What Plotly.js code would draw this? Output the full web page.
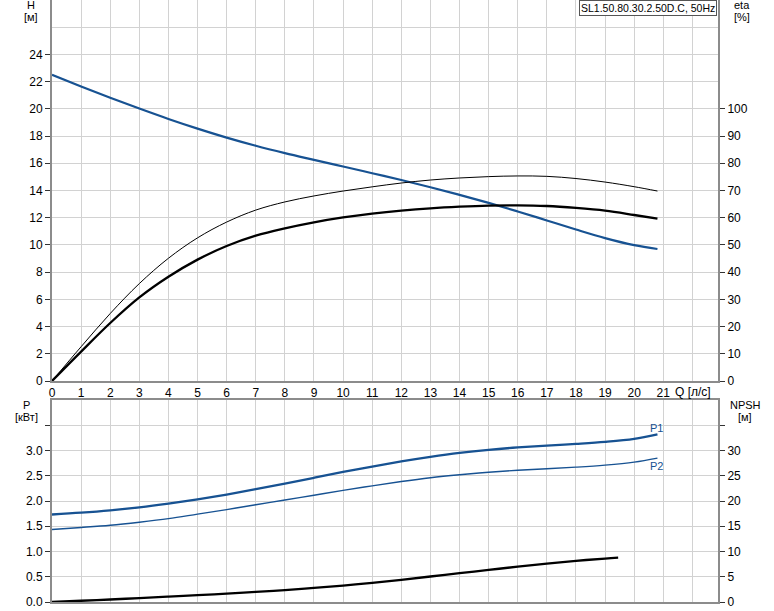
<!DOCTYPE html>
<html>
<head>
<meta charset="utf-8">
<script src="https://cdn.plot.ly/plotly-3.0.1.min.js"></script>
<style>html,body{margin:0;padding:0;background:#fff;}#chart{width:774px;height:611px;}</style>
</head>
<body>
<div id="chart"></div>
<script>
// ---- data ----
const Q = [0,1,2,3,4,5,6,7,8,9,10,11,12,13,14,15,16,17,18,19,20,20.8];
const H = [22.5,21.65,20.82,20.02,19.26,18.55,17.89,17.29,16.75,16.25,15.76,15.27,14.77,14.24,13.68,13.09,12.46,11.8,11.13,10.5,9.98,9.7];
const etaThin = [0,12.6,24.8,35.8,45.1,52.6,58.4,62.8,65.8,68.0,69.8,71.35,72.75,73.85,74.6,75.1,75.35,75.2,74.4,73.1,71.4,69.8];
const etaThick = [0,10.8,21.3,30.7,38.3,44.6,49.6,53.4,56.1,58.3,60.1,61.5,62.6,63.45,64.05,64.45,64.55,64.3,63.6,62.6,61.0,59.65];
const P1 = [1.733,1.768,1.813,1.873,1.948,2.033,2.128,2.233,2.345,2.46,2.575,2.683,2.783,2.873,2.951,3.013,3.061,3.098,3.131,3.171,3.231,3.321];
const P2 = [1.437,1.476,1.52,1.58,1.65,1.74,1.83,1.925,2.02,2.115,2.21,2.30,2.385,2.46,2.52,2.57,2.61,2.64,2.67,2.71,2.77,2.85];
const QN = [0,1,2,3,4,5,6,7,8,9,10,11,12,13,14,15,16,17,18,19,19.45];
const NPSH = [0,0.25,0.5,0.78,1.07,1.36,1.66,2.0,2.37,2.78,3.25,3.8,4.4,5.05,5.7,6.35,7.0,7.6,8.15,8.6,8.77];

const xTickVals = [0,1,2,3,4,5,6,7,8,9,10,11,12,13,14,15,16,17,18,19,20,21,22];
const xTickText = ['0','1','2','3','4','5','6','7','8','9','10','11','12','13','14','15','16','17','18','19','20','21',''];
const hTickVals = [0,2,4,6,8,10,12,14,16,18,20,22,24];
const etaTickVals = [0,10,20,30,40,50,60,70,80,90,100];
const pTickVals = [0,0.5,1,1.5,2,2.5,3,3.5];
const pTickText = ['0.0','0.5','1.0','1.5','2.0','2.5','3.0',''];
const nTickVals = [0,5,10,15,20,25,30,35];
const nTickText = ['0','5','10','15','20','25','30',''];

// ---- styling ----
const BLUE = '#175292';
const GRID = '#d2d2d2';
const AXL = '#8c8c8c';
const FONT = 'Liberation Sans, Arial, sans-serif';
const W = 774, HGT = 611, ML = 52, MR = 56, MT = 0, MB = 9;
const pw = W - ML - MR, ph = HGT - MT - MB;
const px2x = p => (p - ML) / pw;
const py2y = p => 1 - (p - MT) / ph;

const traces = [
  {x: Q, y: H, xaxis: 'x', yaxis: 'y', mode: 'lines', line: {color: BLUE, width: 2.2, shape: 'spline'}, hoverinfo: 'skip'},
  {x: Q, y: etaThin, xaxis: 'x', yaxis: 'y2', mode: 'lines', line: {color: '#000', width: 1, shape: 'spline'}, hoverinfo: 'skip'},
  {x: Q, y: etaThick, xaxis: 'x', yaxis: 'y2', mode: 'lines', line: {color: '#000', width: 2.3, shape: 'spline'}, hoverinfo: 'skip'},
  {x: Q, y: P1, xaxis: 'x2', yaxis: 'y3', mode: 'lines', line: {color: BLUE, width: 2.3, shape: 'spline'}, hoverinfo: 'skip'},
  {x: Q, y: P2, xaxis: 'x2', yaxis: 'y3', mode: 'lines', line: {color: BLUE, width: 1.4, shape: 'spline'}, hoverinfo: 'skip'},
  {x: QN, y: NPSH, xaxis: 'x2', yaxis: 'y4', mode: 'lines', line: {color: '#000', width: 2.3, shape: 'spline'}, hoverinfo: 'skip'}
];

const topDom = [py2y(381), 1];
const botDom = [0, py2y(400)];
const xRange = [0, 22.88];

const common = {showline: true, linecolor: AXL, linewidth: 2, zeroline: false, gridcolor: GRID, gridwidth: 1,
  tickfont: {family: FONT, size: 12, color: '#000'}, tickcolor: '#333', ticklen: 5, tickwidth: 1};

function ann(text, xp, yp, extra) {
  return Object.assign({text: text, x: px2x(xp), y: py2y(yp), xref: 'paper', yref: 'paper', showarrow: false,
    xanchor: 'center', yanchor: 'middle', font: {family: FONT, size: 11, color: '#000'}}, extra || {});
}

const layout = {
  width: W, height: HGT,
  margin: {l: ML, r: MR, t: MT, b: MB, pad: 0},
  paper_bgcolor: '#fff', plot_bgcolor: '#fff',
  showlegend: false,
  font: {family: FONT, size: 12, color: '#000'},
  xaxis: Object.assign({}, common, {domain: [0, 1], anchor: 'y', range: xRange, tickmode: 'array', tickvals: xTickVals, ticktext: xTickText, ticks: '', showgrid: true}),
  xaxis2: Object.assign({}, common, {domain: [0, 1], anchor: 'y3', range: xRange, tickmode: 'array', tickvals: xTickVals, showticklabels: false, ticks: '', showgrid: true, mirror: true, matches: 'x'}),
  yaxis: Object.assign({}, common, {domain: topDom, anchor: 'x', range: [0, 28], tickmode: 'array', tickvals: hTickVals, ticks: 'outside', showgrid: true,
    minor: {tickmode: 'array', tickvals: [26], ticks: '', showgrid: true, gridcolor: GRID, gridwidth: 1}}),
  yaxis2: Object.assign({}, common, {overlaying: 'y', side: 'right', anchor: 'x', range: [0, 140], tickmode: 'array', tickvals: etaTickVals, ticks: 'outside', showgrid: false}),
  yaxis3: Object.assign({}, common, {domain: botDom, anchor: 'x2', range: [0, 4], tickmode: 'array', tickvals: pTickVals, ticktext: pTickText, ticks: 'outside', showgrid: true}),
  yaxis4: Object.assign({}, common, {overlaying: 'y3', side: 'right', anchor: 'x2', range: [0, 40], tickmode: 'array', tickvals: nTickVals, ticktext: nTickText, ticks: 'outside', showgrid: false}),
  annotations: [
    ann('H', 31, 5),
    ann('[м]', 31, 17),
    ann('eta', 742, 5),
    ann('[%]', 742, 17),
    ann('P', 26, 405),
    ann('[кВт]', 26, 417),
    ann('NPSH', 745, 405),
    ann('[м]', 745, 417),
    ann('Q [л/с]', 713, 392, {xanchor: 'right', font: {family: FONT, size: 12, color: '#000'}}),
    ann('P1', 656, 428, {font: {family: FONT, size: 11, color: BLUE}}),
    ann('P2', 656, 466, {font: {family: FONT, size: 11, color: BLUE}}),
    ann('SL1.50.80.30.2.50D.C, 50Hz', 717, 0, {xanchor: 'right', yanchor: 'top', bgcolor: '#fff', bordercolor: '#555', borderwidth: 1, borderpad: 1,
      font: {family: FONT, size: 10.5, color: '#000'}})
  ]
};

Plotly.newPlot('chart', traces, layout, {staticPlot: true, displayModeBar: false});
</script>
</body>
</html>
